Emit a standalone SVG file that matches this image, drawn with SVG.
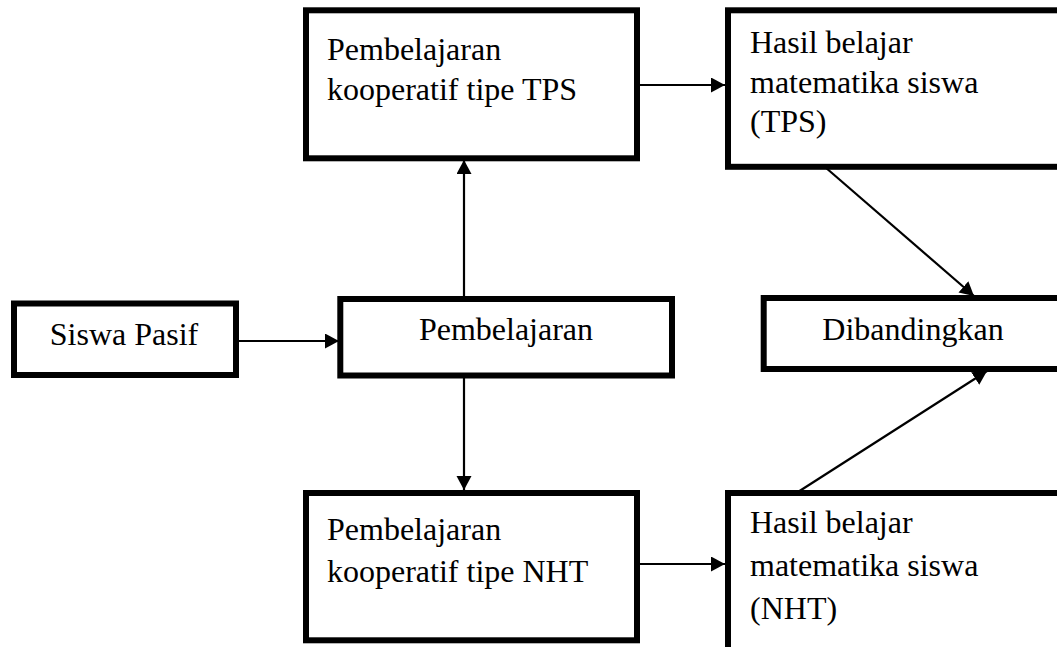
<svg xmlns="http://www.w3.org/2000/svg" width="1057" height="647" viewBox="0 0 1057 647">
<style>
.box{fill:#fff;stroke:#000;stroke-width:6}
.t{font-family:"Liberation Serif","Times New Roman",serif;font-size:32px;fill:#000}
.c{text-anchor:middle}
.ln{stroke:#000;stroke-width:2.2;fill:none;marker-end:url(#ah)}
</style>
<defs>
<marker id="ah" markerUnits="userSpaceOnUse" markerWidth="16" markerHeight="16" refX="14" refY="7.5" orient="auto">
<path d="M0,0 L14,7.5 L0,15 Z" fill="#000"/>
</marker>
</defs>
<rect width="1057" height="647" fill="#fff"/>
<g id="connectors">
<line class="ln" x1="239" y1="341" x2="339" y2="341"/>
<line class="ln" x1="464" y1="296" x2="464" y2="160"/>
<line class="ln" x1="464" y1="378" x2="464" y2="490"/>
<line class="ln" x1="640" y1="85" x2="725" y2="85"/>
<line class="ln" x1="640" y1="564" x2="725" y2="564"/>
<line class="ln" x1="825" y1="167" x2="974" y2="296"/>
<line class="ln" x1="798" y1="492" x2="987" y2="371"/>
</g>
<g id="node-tps">
<rect class="box" x="306" y="10.3" width="331" height="148"/>
<text class="t" x="327" y="60">Pembelajaran</text>
<text class="t" x="327" y="100">kooperatif tipe TPS</text>
</g>
<g id="node-hasil-tps">
<rect class="box" x="728" y="10.3" width="400" height="156.5"/>
<text class="t" x="750" y="53">Hasil belajar</text>
<text class="t" x="750" y="93">matematika siswa</text>
<text class="t" x="750" y="132">(TPS)</text>
</g>
<g id="node-siswa">
<rect class="box" x="14" y="303.5" width="222" height="71.5"/>
<text class="t c" x="124" y="345">Siswa Pasif</text>
</g>
<g id="node-pembelajaran">
<rect class="box" x="340.3" y="299" width="331.7" height="76.5"/>
<text class="t c" x="506" y="340">Pembelajaran</text>
</g>
<g id="node-dibandingkan">
<rect class="box" x="763.7" y="298" width="400" height="71"/>
<text class="t c" x="913" y="340">Dibandingkan</text>
</g>
<g id="node-nht">
<rect class="box" x="306" y="493" width="331" height="147.3"/>
<text class="t" x="327" y="540">Pembelajaran</text>
<text class="t" x="327" y="582">kooperatif tipe NHT</text>
</g>
<g id="node-hasil-nht">
<rect class="box" x="728" y="493" width="400" height="200"/>
<text class="t" x="750" y="533">Hasil belajar</text>
<text class="t" x="750" y="576">matematika siswa</text>
<text class="t" x="750" y="619">(NHT)</text>
</g>
</svg>
